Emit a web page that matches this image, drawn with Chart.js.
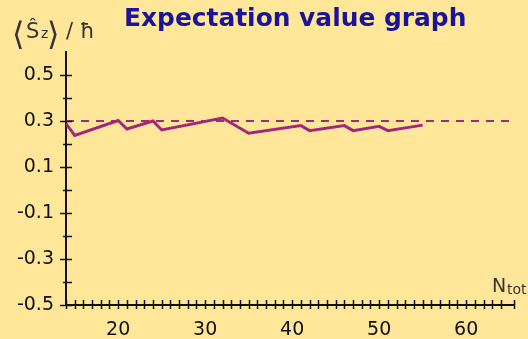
<!DOCTYPE html>
<html>
<head>
<meta charset="utf-8">
<script src="https://cdn.jsdelivr.net/npm/chart.js@4"></script>
<style>
  html, body { margin: 0; padding: 0; background: #ffe699; }
  #wrap { width: 528px; height: 339px; }
</style>
</head>
<body>
<div id="wrap"><canvas id="expect-chart"></canvas></div>
<script>
// N_tot at each vertex of the curve
var nTot = [14, 15, 20, 21, 24, 25, 32, 35, 41, 42, 46, 47, 50, 51, 55];
// <Sz>/hbar at those vertices
var szValues = [0.289, 0.237, 0.302, 0.265, 0.300, 0.261, 0.313, 0.247, 0.280, 0.258, 0.280, 0.258, 0.277, 0.258, 0.282];
// expected value (dashed line)
var expected = 0.3;
var xRange = [14, 65.5];
var yRange = [-0.5, 0.6];
var yLabels = [0.5, 0.3, 0.1, -0.1, -0.3, -0.5];
var xLabels = [20, 30, 40, 50, 60];

var lineColor = "#a2287e";
var tickFont = { family: "DejaVu Sans", size: 19 };

var curve = nTot.map(function (n, i) { return { x: n, y: szValues[i] }; });
var refLine = xRange.map(function (n) { return { x: n, y: expected }; });

// crossing tick marks and the text around the plot
var decor = {
	id: "decor",
	afterDraw: function (chart) {
		var c = chart.ctx;
		var xs = chart.scales.x, ys = chart.scales.y;
		c.save();
		c.strokeStyle = "#111";
		c.lineWidth = 1.5;
		ys.ticks.forEach(function (t) {
			if (t.value > 0.55) return;
			var py = Math.round(ys.getPixelForValue(t.value)) + 0.5;
			var major = yLabels.some(function (v) { return Math.abs(v - t.value) < 1e-6; });
			c.beginPath();
			c.moveTo(xs.left - (major ? 6 : 3), py);
			c.lineTo(xs.left + 6, py);
			c.stroke();
		});
		xs.ticks.forEach(function (t) {
			var px = Math.round(xs.getPixelForValue(t.value)) + 0.5;
			c.beginPath();
			c.moveTo(px, ys.bottom - 5);
			c.lineTo(px, ys.bottom + 4);
			c.stroke();
		});

		// title
		var title = "Expectation value graph";
		c.font = "bold 100px 'DejaVu Sans'";
		var fs = 100 * 343 / c.measureText(title).width;
		c.font = "bold " + fs.toFixed(1) + "px 'DejaVu Sans'";
		c.fillStyle = "#1a1499";
		c.textBaseline = "alphabetic";
		c.textAlign = "left";
		c.fillText(title, 124, 26);

		// y axis label <S_z>/hbar
		c.fillStyle = "#333";
		c.font = "32px 'DejaVu Sans'";
		c.fillText("\u27E8", 12, 45);
		c.font = "21px 'DejaVu Sans'";
		c.fillText("\u015C", 26, 38);
		c.font = "14px 'DejaVu Sans'";
		c.fillText("z", 41, 38);
		c.font = "32px 'DejaVu Sans'";
		c.fillText("\u27E9", 47, 45);
		c.font = "21px 'DejaVu Sans'";
		c.fillText("/", 66, 38);
		c.fillText("\u0127", 80, 38);

		// x axis label N_tot (cut off at right edge)
		c.font = "19px 'DejaVu Sans'";
		c.fillText("N", 492, 292);
		c.font = "14px 'DejaVu Sans'";
		c.fillText("tot", 507, 294);
		c.restore();
	},
};

var ctx = document.getElementById("expect-chart").getContext("2d");
var chart = new Chart(ctx, {
	type: "line",
	data: {
		datasets: [
			{
				label: "expected",
				data: refLine,
				borderColor: lineColor,
				borderWidth: 2,
				borderDash: [8, 7],
				pointRadius: 0,
				fill: false,
			},
			{
				label: "<Sz>",
				data: curve,
				borderColor: lineColor,
				borderWidth: 3,
				pointRadius: 0,
				tension: 0,
				fill: false,
			},
		],
	},
	options: {
		responsive: true,
		maintainAspectRatio: false,
		animation: false,
		layout: { padding: { top: 52, right: 0, left: 0, bottom: 0 } },
		plugins: { legend: { display: false }, tooltip: { enabled: false } },
		scales: {
			x: {
				type: "linear",
				min: xRange[0],
				max: xRange[1],
				grid: { display: false, drawTicks: false },
				border: { display: true, color: "#111", width: 2 },
				ticks: {
					stepSize: 1,
					autoSkip: false,
					maxRotation: 0,
					padding: 14,
					color: "#111",
					font: tickFont,
					callback: function (v) {
						return xLabels.indexOf(Math.round(v)) >= 0 && Math.abs(v - Math.round(v)) < 1e-6 ? String(Math.round(v)) : "";
					},
				},
				afterFit: function (s) { s.height = 34; },
			},
			y: {
				min: yRange[0],
				max: yRange[1],
				grid: { display: false, drawTicks: false },
				border: { display: true, color: "#111", width: 2 },
				ticks: {
					stepSize: 0.1,
					autoSkip: false,
					padding: 12,
					color: "#111",
					font: tickFont,
					callback: function (v) {
						var hit = yLabels.filter(function (l) { return Math.abs(l - v) < 1e-6; });
						return hit.length ? String(hit[0]) : "";
					},
				},
				afterFit: function (s) { s.width = 66; },
			},
		},
	},
	plugins: [decor],
});
</script>
</body>
</html>
